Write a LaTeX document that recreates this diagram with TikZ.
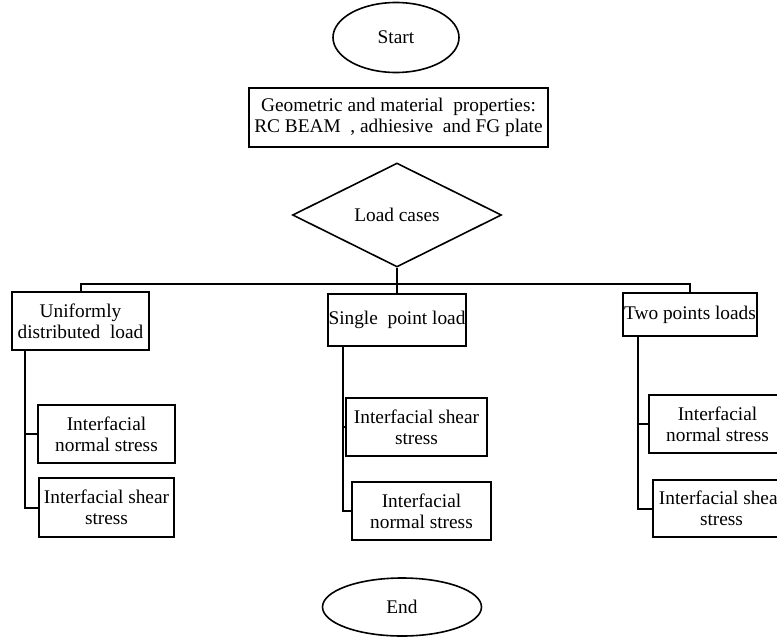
\documentclass[tikz,border=0pt]{standalone}
\usepackage{fontspec}
\setmainfont{Liberation Serif}
\usetikzlibrary{shapes.geometric, positioning}
\tikzstyle{block} = [draw, fill=white, rectangle, line width=1.5pt, align=center, inner sep=0pt]
\tikzstyle{terminal} = [draw, ellipse, line width=1.2pt, inner sep=0pt]
\tikzstyle{decision} = [draw, diamond, line width=1.2pt, inner sep=0pt]
\tikzstyle{link} = [line width=1.5pt]

\begin{document}
\begin{tikzpicture}[x=0.75pt,y=-0.75pt,font=\fontsize{14.5}{15.75}\selectfont]
  \useasboundingbox (0,0) rectangle (777,636);
  \clip (0,0) rectangle (777,636);
  \node[terminal, minimum width=94.5pt, minimum height=52.5pt] (start) at (396,37.5) {Start};
  \node[block, minimum width=224.25pt, minimum height=44.25pt] (props) at (398.5,117.5) {Geometric and material~ properties:\\RC BEAM~~, adhiesive~ and FG plate};
  \node[decision, minimum width=156.75pt, minimum height=78pt] (ld) at (397,215) {Load cases};
  \node[block, minimum width=102.75pt, minimum height=43.5pt] (udl) at (80.5,321) {Uniformly\\distributed~ load};
  \node[block, minimum width=102.75pt, minimum height=43.5pt] (uns) at (106.5,434) {Interfacial\\normal stress};
  \node[block, minimum width=101.25pt, minimum height=44.25pt] (uss) at (106.5,507.5) {Interfacial shear\\stress};
  \node[block, minimum width=103.5pt, minimum height=39pt] (spl) at (397,320) {Single~ point load};
  \node[block, minimum width=105.75pt, minimum height=43.5pt] (sps) at (416.5,427) {Interfacial shear\\stress};
  \node[block, minimum width=104.25pt, minimum height=43.5pt] (spn) at (421.5,511) {Interfacial\\normal stress};
  \node[block, minimum width=100.5pt, minimum height=32.25pt] (tpl) at (690,314.5) {Two points loads};
  \node[block, minimum width=102.75pt, minimum height=43.5pt] (tpn) at (717.5,424) {Interfacial\\normal stress};
  \node[block, minimum width=102.75pt, minimum height=42.75pt] (tps) at (721.5,508.5) {Interfacial shear\\stress};
  \node[terminal, minimum width=119.25pt, minimum height=43.5pt] (end) at (402,607) {End};
  \coordinate (bus) at (397,284);
  \draw[link] (udl.north) |- (bus) -| (tpl.north);
  \draw[link] (ld.south) -- (spl.north);
  \coordinate (trunkA) at (25,350);
  \coordinate (trunkB) at (343,346);
  \coordinate (trunkC) at (638,336);
  \draw[link] (trunkA) |- (uns.west);
  \draw[link] (trunkA) |- (uss.west);
  \draw[link] (trunkB) |- (sps.west);
  \draw[link] (trunkB) |- (spn.west);
  \draw[link] (trunkC) |- (tpn.west);
  \draw[link] (trunkC) |- (tps.west);
\end{tikzpicture}
\end{document}
